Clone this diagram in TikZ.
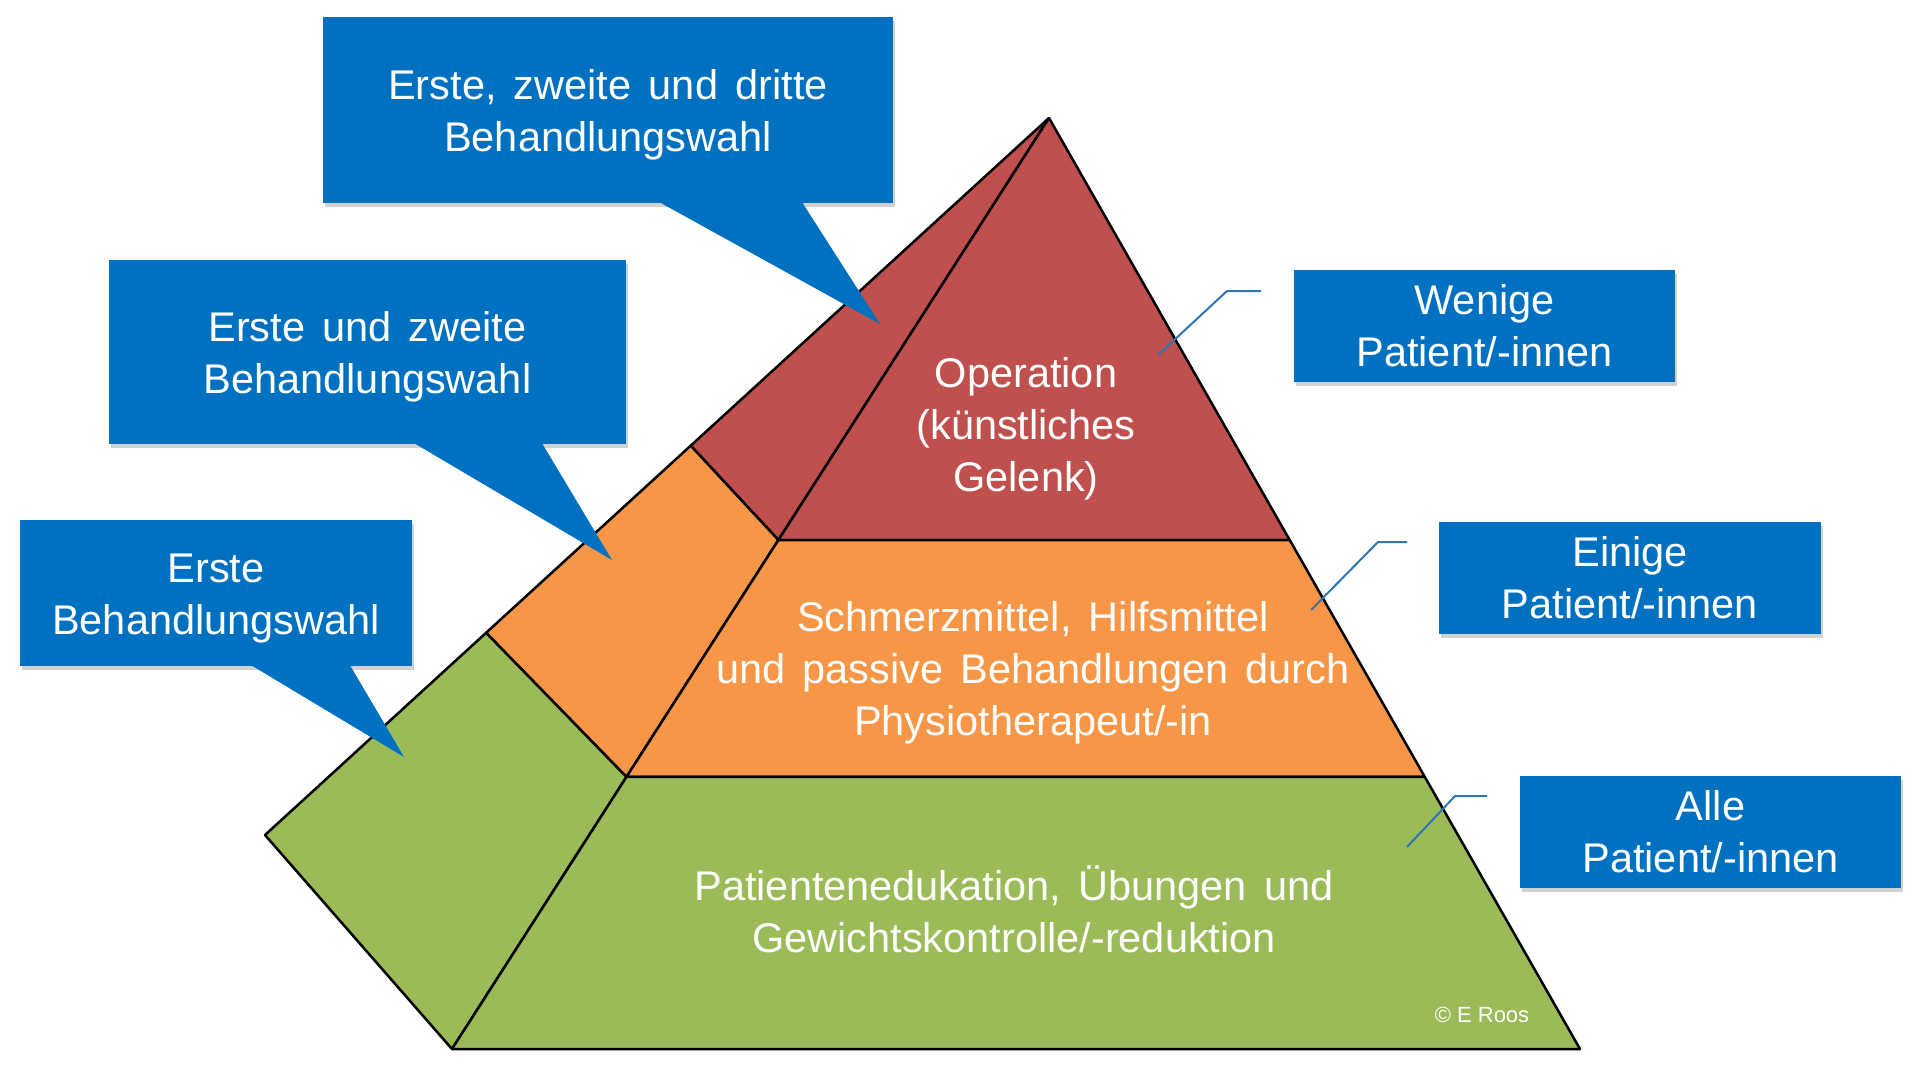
\documentclass[tikz,border=0pt]{standalone}
\usepackage{fontspec}
\setmainfont{Liberation Sans}
\newfontfamily\labelfamily[WordSpace=1.5]{Liberation Sans}
\usetikzlibrary{calc,shadows}
\definecolor{boxblue}{HTML}{0070C0}
\definecolor{linkblue}{HTML}{2E75B6}
\definecolor{tierred}{HTML}{C0504D}
\definecolor{tierorange}{HTML}{F79646}
\definecolor{tiergreen}{HTML}{9BBB59}
\newcommand\topstrut{\rule{0pt}{40pt}}
\begin{document}
\begin{tikzpicture}
         [x=1pt, y=-1pt,
          label text/.style={text=white, align=center, inner sep=0pt,
            font=\labelfamily\fontsize{41.5}{52}\selectfont},
          callout box/.style={label text, fill=boxblue,
            drop shadow={shadow xshift=2pt, shadow yshift=-4pt, fill=black!45, opacity=0.4}},
          tier/.style={draw=black, line width=2.5pt, line join=round},
          link line/.style={draw=linkblue, line width=2pt}]
         \useasboundingbox (0,0) rectangle (1920,1074);
         \def\redcut{0.4533} \def\orangecut{0.7078}
         \def\redside{0.457} \def\orangeside{0.718}
         
         % pyramid corners
         \coordinate (apex) at (1049,118);
         \coordinate (base left) at (452,1049);
         \coordinate (base right) at (1580,1049);
         \coordinate (side left) at (265,835);
         \coordinate (red fl) at ($(apex)!\redcut!(base left)$);
         \coordinate (red fr) at ($(apex)!\redcut!(base right)$);
         \coordinate (red sl) at ($(apex)!\redside!(side left)$);
         \coordinate (org fl) at ($(apex)!\orangecut!(base left)$);
         \coordinate (org fr) at ($(apex)!\orangecut!(base right)$);
         \coordinate (org sl) at ($(apex)!\orangeside!(side left)$);
         
         % side face
         \filldraw[tier, fill=tierred] (apex) -- (red sl) -- (red fl) -- cycle;
         \filldraw[tier, fill=tierorange] (red sl) -- (org sl) -- (org fl) -- (red fl) -- cycle;
         \filldraw[tier, fill=tiergreen] (org sl) -- (side left) -- (base left) -- (org fl) -- cycle;
         % front face
         \filldraw[tier, fill=tierred] (apex) -- (red fl) -- (red fr) -- cycle;
         \filldraw[tier, fill=tierorange] (red fl) -- (org fl) -- (org fr) -- (red fr) -- cycle;
         \filldraw[tier, fill=tiergreen] (org fl) -- (base left) -- (base right) -- (org fr) -- cycle;
         
         \node[label text] (top tier) at (1026,429) {Operation\\(künstliches\\Gelenk)};
         \node[label text] (mid tier) at (1033,673) {Schmerzmittel, Hilfsmittel\\und passive Behandlungen durch\\Physiotherapeut/-in};
         \node[label text] (low tier) at (1014,909.5) {Patientenedukation, Übungen und\\Gewichtskontrolle/-reduktion};
         \node[text=white, font=\fontsize{22}{26}\selectfont] (credit) at (1482,1015) {© E Roos};
         
         % callouts on the left
         \node[callout box, minimum width=570pt, minimum height=186pt] (third) at (608,110) {\topstrut Erste, zweite und dritte\\Behandlungswahl};
         \node[callout box, minimum width=517pt, minimum height=184pt] (second) at (367.5,352) {\topstrut Erste und zweite\\Behandlungswahl};
         \node[callout box, minimum width=392pt, minimum height=146pt] (first) at (216,593) {\topstrut Erste\\Behandlungswahl};
         \coordinate (third tip) at (880,324);
         \coordinate (second tip) at (612,560);
         \coordinate (first tip) at (404,757);
         \fill[boxblue] ($(third.south west)+(333,-3)$) -- (third tip) -- ($(third.south west)+(478,-3)$) -- cycle;
         \fill[boxblue] ($(second.south west)+(302,-3)$) -- (second tip) -- ($(second.south west)+(432,-3)$) -- cycle;
         \fill[boxblue] ($(first.south west)+(228,-3)$) -- (first tip) -- ($(first.south west)+(329,-3)$) -- cycle;
         
         % labels on the right
         \node[callout box, minimum width=381pt, minimum height=112pt] (few) at (1484.5,326) {Wenige\\Patient/-innen};
         \node[callout box, minimum width=382pt, minimum height=112pt] (some) at (1630,578) {Einige\\Patient/-innen};
         \node[callout box, minimum width=381pt, minimum height=112pt] (all) at (1710.5,832) {Alle\\Patient/-innen};
         \coordinate (few from) at (1158,355);
         \coordinate (few bend) at (1227,291);
         \coordinate (few end) at (1261,291);
         \coordinate (some from) at (1311,610);
         \coordinate (some bend) at (1378,542);
         \coordinate (some end) at (1407,542);
         \coordinate (all from) at (1407,847);
         \coordinate (all bend) at (1455,796);
         \coordinate (all end) at (1487,796);
         \draw[link line] (few from) -- (few bend) -- (few end);
         \draw[link line] (some from) -- (some bend) -- (some end);
         \draw[link line] (all from) -- (all bend) -- (all end);
      \end{tikzpicture}
\end{document}
